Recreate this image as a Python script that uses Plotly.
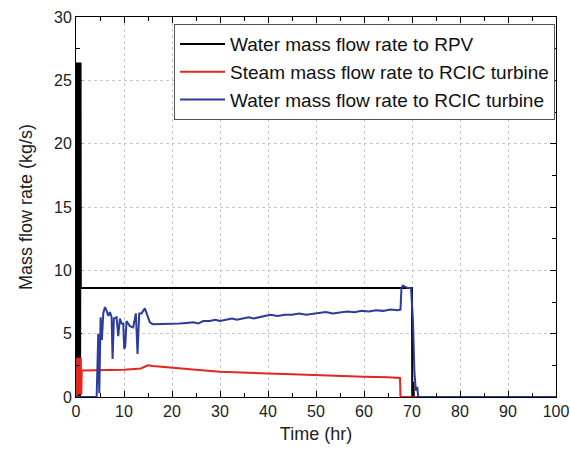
import plotly.graph_objects as go

# ---- data ----
rpv_t = [0.0, 0.15, 0.25, 0.35, 0.45, 0.55, 0.65, 0.75, 0.85, 0.95, 1.0, 20, 40, 60, 70.0, 70.05, 70.3, 70.4, 100]
rpv_v = [0.0, 26.4, 0.0, 26.4, 0.0, 26.4, 0.0, 26.4, 0.0, 26.4, 8.6, 8.6, 8.6, 8.6, 8.6, 0.0, 1.2, 0.0, 0.0]

steam_t = [0.15, 0.2, 0.3, 0.4, 0.5, 0.6, 0.7, 0.8, 0.9, 1.0, 1.1, 1.2, 5, 10, 13.5, 14.5, 15.0, 16, 20, 25, 30, 35, 40, 45, 50, 55, 60, 65, 67.5, 67.6, 100]
steam_v = [0.0, 3.1, 0.2, 3.1, 0.2, 3.1, 0.2, 3.1, 0.2, 3.1, 0.2, 2.1, 2.1, 2.15, 2.25, 2.45, 2.5, 2.45, 2.3, 2.15, 2.0, 1.9, 1.85, 1.8, 1.72, 1.65, 1.6, 1.55, 1.5, 0.0, 0.0]

water_t = [0.0, 4.3, 4.64, 4.85, 5.13, 5.4, 5.68, 6.03, 6.4, 6.72, 7.07, 7.42, 7.62, 7.9, 8.45, 8.8, 9.15, 9.49, 9.84,
           10.05, 10.26, 10.53, 11.23, 11.92, 12.47, 12.82, 13.17, 13.65, 14.34, 14.83, 15.38, 16.0, 17.5, 19, 21.6,
           23, 24.4, 25.5, 26.5, 27.9, 29, 30, 31.3, 32.5, 33.5, 34.8, 36, 37, 38.3, 39.5, 40.5, 42, 43.5, 45,
           46.5, 48, 50, 52, 53.5, 55, 56.5, 58, 59.5, 61, 62.5, 64, 65.5, 67, 67.6, 67.8, 68.1, 68.6, 69.2,
           69.8, 70.2, 70.5, 70.8, 71.1, 71.3, 100]
water_v = [0.0, 0.0, 5.0, 0.3, 6.3, 4.5, 6.6, 7.1, 6.8, 6.4, 6.7, 6.3, 3.0, 6.2, 6.3, 4.8, 6.2, 5.8, 5.8,
           3.8, 4.0, 6.0, 5.6, 5.5, 6.6, 3.4, 6.6, 6.6, 7.0, 6.5, 5.9, 5.75, 5.75, 5.8, 5.8,
           5.85, 5.9, 5.8, 6.0, 6.0, 6.1, 6.0, 6.1, 6.2, 6.1, 6.2, 6.3, 6.2, 6.3, 6.4, 6.5, 6.4, 6.5, 6.5,
           6.6, 6.5, 6.6, 6.7, 6.6, 6.7, 6.75, 6.7, 6.8, 6.75, 6.85, 6.8, 6.9, 6.85, 6.9, 8.6, 8.8, 8.7, 8.6,
           8.6, 6.0, 2.0, 0.5, 0.8, 0.0, 0.0]

names = ["Water mass flow rate to RPV", "Steam mass flow rate to RCIC turbine", "Water mass flow rate to RCIC turbine"]
colors = ["#000000", "#e3261f", "#2c3b9c"]

x_ticks = [0, 10, 20, 30, 40, 50, 60, 70, 80, 90, 100]
y_ticks = [0, 5, 10, 15, 20, 25, 30]

fig = go.Figure()
for t, v, n, c in [(rpv_t, rpv_v, names[0], colors[0]),
                   (steam_t, steam_v, names[1], colors[1]),
                   (water_t, water_v, names[2], colors[2])]:
    fig.add_trace(go.Scatter(x=t, y=v, mode="lines", name=n, line=dict(color=c, width=2)))

axis_common = dict(
    showline=True, linecolor="#000", linewidth=1, mirror="allticks",
    ticks="inside", ticklen=6, tickcolor="#000",
    showgrid=True, gridcolor="#c8c8c8", griddash="dot", gridwidth=1,
    zeroline=False, tickfont=dict(size=16, color="#222"),
    ticklabeloverflow="allow", automargin=False,
)
fig.update_layout(
    width=570, height=453,
    margin=dict(l=76, r=14, t=17, b=56),
    paper_bgcolor="white", plot_bgcolor="white",
    font=dict(family="Liberation Sans, Arial, sans-serif", color="#222"),
    showlegend=True,
    legend=dict(x=0.998, y=0.981, xanchor="right", yanchor="top",
                bgcolor="white", bordercolor="#555", borderwidth=1,
                font=dict(size=19, color="#111"), tracegroupgap=0, itemwidth=45),
    xaxis=dict(range=[0, 100], tickvals=x_ticks,
               minor=dict(dtick=5, ticks="inside", ticklen=4, tickcolor="#000", showgrid=False),
               title=dict(text="Time (hr)", font=dict(size=18), standoff=8),
               **axis_common),
    yaxis=dict(range=[0, 30], tickvals=y_ticks,
               minor=dict(dtick=2.5, ticks="inside", ticklen=4, tickcolor="#000", showgrid=False),
               title=dict(text="Mass flow rate (kg/s)", font=dict(size=18), standoff=16),
               **axis_common),
)
fig.write_html("out.html")
